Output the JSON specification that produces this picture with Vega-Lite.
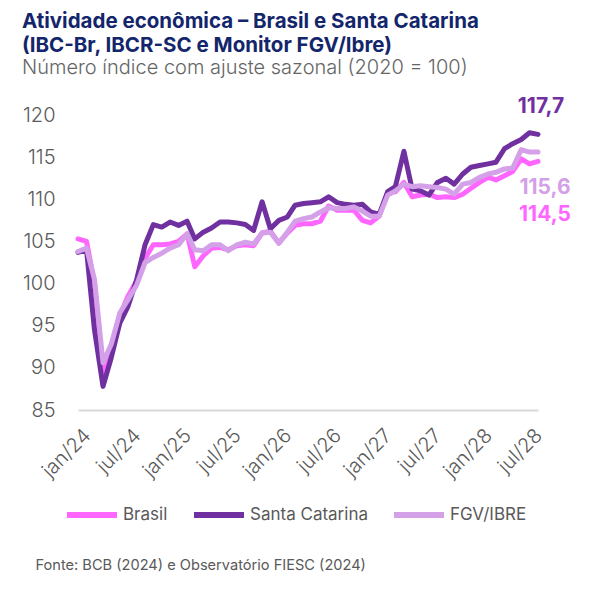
{
"$schema": "https://vega.github.io/schema/vega-lite/v6.json",
"width": 460, "height": 295,
"autosize": {"type": "none"},
"padding": {"left": 78, "top": 115, "right": 66, "bottom": 183},
"background": "white",
"config": {
  "font": "Inter",
  "view": {"stroke": null},
  "locale": {
    "number": {"decimal": ",", "thousands": ".", "grouping": [3], "currency": ["R$ ", ""]},
    "time": {"dateTime": "%A, %e de %B de %Y. %X", "date": "%d/%m/%Y", "time": "%H:%M:%S", "periods": ["AM", "PM"],
      "days": ["Domingo", "Segunda", "Terça", "Quarta", "Quinta", "Sexta", "Sábado"],
      "shortDays": ["Dom", "Seg", "Ter", "Qua", "Qui", "Sex", "Sáb"],
      "months": ["Janeiro", "Fevereiro", "Março", "Abril", "Maio", "Junho", "Julho", "Agosto", "Setembro", "Outubro", "Novembro", "Dezembro"],
      "shortMonths": ["jan", "fev", "mar", "abr", "mai", "jun", "jul", "ago", "set", "out", "nov", "dez"]}
  }
},
"title": {
  "text": ["Atividade econômica – Brasil e Santa Catarina", "(IBC-Br, IBCR-SC e Monitor FGV/Ibre)"],
  "subtitle": "Número índice com ajuste sazonal (2020 = 100)",
  "anchor": "start", "frame": "group", "dx": -56, "offset": 18,
  "fontSize": 20.5, "fontWeight": "bold", "color": "#13266b", "lineHeight": 24,
  "subtitleFontSize": 20, "subtitleColor": "#666666", "subtitleFontWeight": 300, "subtitlePadding": 2
},
"data": {"values": [
{"d":"2024-01-01","s":"Brasil","v":105.3},{"d":"2024-02-01","s":"Brasil","v":105.0},{"d":"2024-03-01","s":"Brasil","v":100.0},{"d":"2024-04-01","s":"Brasil","v":89.6},{"d":"2024-05-01","s":"Brasil","v":92.5},{"d":"2024-06-01","s":"Brasil","v":96.2},{"d":"2024-07-01","s":"Brasil","v":98.5},{"d":"2024-08-01","s":"Brasil","v":100.3},{"d":"2024-09-01","s":"Brasil","v":103.0},{"d":"2024-10-01","s":"Brasil","v":104.6},{"d":"2024-11-01","s":"Brasil","v":104.6},{"d":"2024-12-01","s":"Brasil","v":104.7},
{"d":"2025-01-01","s":"Brasil","v":105.0},{"d":"2025-02-01","s":"Brasil","v":105.9},{"d":"2025-03-01","s":"Brasil","v":102.0},{"d":"2025-04-01","s":"Brasil","v":103.3},{"d":"2025-05-01","s":"Brasil","v":104.2},{"d":"2025-06-01","s":"Brasil","v":104.3},{"d":"2025-07-01","s":"Brasil","v":104.0},{"d":"2025-08-01","s":"Brasil","v":104.5},{"d":"2025-09-01","s":"Brasil","v":104.6},{"d":"2025-10-01","s":"Brasil","v":104.5},{"d":"2025-11-01","s":"Brasil","v":106.0},{"d":"2025-12-01","s":"Brasil","v":106.2},
{"d":"2026-01-01","s":"Brasil","v":104.8},{"d":"2026-02-01","s":"Brasil","v":106.0},{"d":"2026-03-01","s":"Brasil","v":106.9},{"d":"2026-04-01","s":"Brasil","v":107.1},{"d":"2026-05-01","s":"Brasil","v":107.1},{"d":"2026-06-01","s":"Brasil","v":107.4},{"d":"2026-07-01","s":"Brasil","v":109.2},{"d":"2026-08-01","s":"Brasil","v":108.7},{"d":"2026-09-01","s":"Brasil","v":108.7},{"d":"2026-10-01","s":"Brasil","v":108.7},{"d":"2026-11-01","s":"Brasil","v":107.5},{"d":"2026-12-01","s":"Brasil","v":107.2},
{"d":"2027-01-01","s":"Brasil","v":108.0},{"d":"2027-02-01","s":"Brasil","v":110.8},{"d":"2027-03-01","s":"Brasil","v":110.9},{"d":"2027-04-01","s":"Brasil","v":112.0},{"d":"2027-05-01","s":"Brasil","v":110.3},{"d":"2027-06-01","s":"Brasil","v":110.5},{"d":"2027-07-01","s":"Brasil","v":110.6},{"d":"2027-08-01","s":"Brasil","v":110.2},{"d":"2027-09-01","s":"Brasil","v":110.3},{"d":"2027-10-01","s":"Brasil","v":110.2},{"d":"2027-11-01","s":"Brasil","v":110.6},{"d":"2027-12-01","s":"Brasil","v":111.3},
{"d":"2028-01-01","s":"Brasil","v":112.0},{"d":"2028-02-01","s":"Brasil","v":112.6},{"d":"2028-03-01","s":"Brasil","v":112.3},{"d":"2028-04-01","s":"Brasil","v":112.8},{"d":"2028-05-01","s":"Brasil","v":113.3},{"d":"2028-06-01","s":"Brasil","v":114.8},{"d":"2028-07-01","s":"Brasil","v":114.2},{"d":"2028-08-01","s":"Brasil","v":114.5},
{"d":"2024-01-01","s":"Santa Catarina","v":103.7},{"d":"2024-02-01","s":"Santa Catarina","v":104.0},{"d":"2024-03-01","s":"Santa Catarina","v":94.5},{"d":"2024-04-01","s":"Santa Catarina","v":87.8},{"d":"2024-05-01","s":"Santa Catarina","v":91.2},{"d":"2024-06-01","s":"Santa Catarina","v":95.3},{"d":"2024-07-01","s":"Santa Catarina","v":97.3},{"d":"2024-08-01","s":"Santa Catarina","v":100.4},{"d":"2024-09-01","s":"Santa Catarina","v":104.6},{"d":"2024-10-01","s":"Santa Catarina","v":107.0},{"d":"2024-11-01","s":"Santa Catarina","v":106.7},{"d":"2024-12-01","s":"Santa Catarina","v":107.3},
{"d":"2025-01-01","s":"Santa Catarina","v":106.9},{"d":"2025-02-01","s":"Santa Catarina","v":107.4},{"d":"2025-03-01","s":"Santa Catarina","v":105.3},{"d":"2025-04-01","s":"Santa Catarina","v":106.1},{"d":"2025-05-01","s":"Santa Catarina","v":106.6},{"d":"2025-06-01","s":"Santa Catarina","v":107.3},{"d":"2025-07-01","s":"Santa Catarina","v":107.3},{"d":"2025-08-01","s":"Santa Catarina","v":107.2},{"d":"2025-09-01","s":"Santa Catarina","v":107.0},{"d":"2025-10-01","s":"Santa Catarina","v":106.3},{"d":"2025-11-01","s":"Santa Catarina","v":109.7},{"d":"2025-12-01","s":"Santa Catarina","v":106.5},
{"d":"2026-01-01","s":"Santa Catarina","v":107.5},{"d":"2026-02-01","s":"Santa Catarina","v":107.9},{"d":"2026-03-01","s":"Santa Catarina","v":109.3},{"d":"2026-04-01","s":"Santa Catarina","v":109.5},{"d":"2026-05-01","s":"Santa Catarina","v":109.6},{"d":"2026-06-01","s":"Santa Catarina","v":109.7},{"d":"2026-07-01","s":"Santa Catarina","v":110.3},{"d":"2026-08-01","s":"Santa Catarina","v":109.6},{"d":"2026-09-01","s":"Santa Catarina","v":109.4},{"d":"2026-10-01","s":"Santa Catarina","v":109.3},{"d":"2026-11-01","s":"Santa Catarina","v":109.4},{"d":"2026-12-01","s":"Santa Catarina","v":108.5},
{"d":"2027-01-01","s":"Santa Catarina","v":108.2},{"d":"2027-02-01","s":"Santa Catarina","v":110.9},{"d":"2027-03-01","s":"Santa Catarina","v":111.5},{"d":"2027-04-01","s":"Santa Catarina","v":115.7},{"d":"2027-05-01","s":"Santa Catarina","v":111.2},{"d":"2027-06-01","s":"Santa Catarina","v":111.0},{"d":"2027-07-01","s":"Santa Catarina","v":110.5},{"d":"2027-08-01","s":"Santa Catarina","v":112.0},{"d":"2027-09-01","s":"Santa Catarina","v":112.5},{"d":"2027-10-01","s":"Santa Catarina","v":111.8},{"d":"2027-11-01","s":"Santa Catarina","v":113.0},{"d":"2027-12-01","s":"Santa Catarina","v":113.8},
{"d":"2028-01-01","s":"Santa Catarina","v":114.0},{"d":"2028-02-01","s":"Santa Catarina","v":114.2},{"d":"2028-03-01","s":"Santa Catarina","v":114.4},{"d":"2028-04-01","s":"Santa Catarina","v":116.0},{"d":"2028-05-01","s":"Santa Catarina","v":116.6},{"d":"2028-06-01","s":"Santa Catarina","v":117.1},{"d":"2028-07-01","s":"Santa Catarina","v":117.9},{"d":"2028-08-01","s":"Santa Catarina","v":117.7},
{"d":"2024-01-01","s":"FGV/IBRE","v":103.8},{"d":"2024-02-01","s":"FGV/IBRE","v":104.2},{"d":"2024-03-01","s":"FGV/IBRE","v":100.5},{"d":"2024-04-01","s":"FGV/IBRE","v":90.6},{"d":"2024-05-01","s":"FGV/IBRE","v":92.8},{"d":"2024-06-01","s":"FGV/IBRE","v":96.5},{"d":"2024-07-01","s":"FGV/IBRE","v":98.1},{"d":"2024-08-01","s":"FGV/IBRE","v":99.8},{"d":"2024-09-01","s":"FGV/IBRE","v":102.5},{"d":"2024-10-01","s":"FGV/IBRE","v":103.1},{"d":"2024-11-01","s":"FGV/IBRE","v":103.6},{"d":"2024-12-01","s":"FGV/IBRE","v":104.2},
{"d":"2025-01-01","s":"FGV/IBRE","v":104.6},{"d":"2025-02-01","s":"FGV/IBRE","v":105.9},{"d":"2025-03-01","s":"FGV/IBRE","v":104.0},{"d":"2025-04-01","s":"FGV/IBRE","v":103.9},{"d":"2025-05-01","s":"FGV/IBRE","v":104.6},{"d":"2025-06-01","s":"FGV/IBRE","v":104.6},{"d":"2025-07-01","s":"FGV/IBRE","v":103.9},{"d":"2025-08-01","s":"FGV/IBRE","v":104.6},{"d":"2025-09-01","s":"FGV/IBRE","v":104.9},{"d":"2025-10-01","s":"FGV/IBRE","v":104.7},{"d":"2025-11-01","s":"FGV/IBRE","v":106.0},{"d":"2025-12-01","s":"FGV/IBRE","v":106.1},
{"d":"2026-01-01","s":"FGV/IBRE","v":104.8},{"d":"2026-02-01","s":"FGV/IBRE","v":106.1},{"d":"2026-03-01","s":"FGV/IBRE","v":107.4},{"d":"2026-04-01","s":"FGV/IBRE","v":107.7},{"d":"2026-05-01","s":"FGV/IBRE","v":107.9},{"d":"2026-06-01","s":"FGV/IBRE","v":108.5},{"d":"2026-07-01","s":"FGV/IBRE","v":109.0},{"d":"2026-08-01","s":"FGV/IBRE","v":108.9},{"d":"2026-09-01","s":"FGV/IBRE","v":108.9},{"d":"2026-10-01","s":"FGV/IBRE","v":109.1},{"d":"2026-11-01","s":"FGV/IBRE","v":108.6},{"d":"2026-12-01","s":"FGV/IBRE","v":108.0},
{"d":"2027-01-01","s":"FGV/IBRE","v":108.0},{"d":"2027-02-01","s":"FGV/IBRE","v":110.5},{"d":"2027-03-01","s":"FGV/IBRE","v":111.0},{"d":"2027-04-01","s":"FGV/IBRE","v":111.8},{"d":"2027-05-01","s":"FGV/IBRE","v":111.5},{"d":"2027-06-01","s":"FGV/IBRE","v":111.6},{"d":"2027-07-01","s":"FGV/IBRE","v":111.5},{"d":"2027-08-01","s":"FGV/IBRE","v":111.4},{"d":"2027-09-01","s":"FGV/IBRE","v":111.2},{"d":"2027-10-01","s":"FGV/IBRE","v":110.6},{"d":"2027-11-01","s":"FGV/IBRE","v":111.8},{"d":"2027-12-01","s":"FGV/IBRE","v":112.0},
{"d":"2028-01-01","s":"FGV/IBRE","v":112.6},{"d":"2028-02-01","s":"FGV/IBRE","v":113.0},{"d":"2028-03-01","s":"FGV/IBRE","v":113.2},{"d":"2028-04-01","s":"FGV/IBRE","v":113.6},{"d":"2028-05-01","s":"FGV/IBRE","v":113.7},{"d":"2028-06-01","s":"FGV/IBRE","v":115.9},{"d":"2028-07-01","s":"FGV/IBRE","v":115.6},{"d":"2028-08-01","s":"FGV/IBRE","v":115.6}
]},
"encoding": {
  "x": {"field": "d", "type": "temporal",
    "scale": {"type": "utc", "domain": [{"year": 2024, "month": 1, "date": 1, "utc": true}, {"year": 2028, "month": 8, "date": 1, "utc": true}]},
    "axis": {"domain": true, "domainColor": "#d9d9d9", "domainWidth": 2, "ticks": false, "tickSize": 0, "grid": false,
      "labelAngle": -45, "labelFontSize": 20, "labelFontWeight": 300, "labelColor": "#595959", "format": "%b/%y",
      "tickCount": {"interval": "month", "step": 6}, "labelPadding": 15, "labelOffset": 2, "labelOverlap": false, "labelBound": false, "labelFlush": false,
      "title": "Fonte: BCB (2024) e Observatório FIESC (2024)", "titleFontSize": 14.6, "titleFontWeight": "normal", "titleColor": "#595959",
      "titleAnchor": "start", "titleAlign": "left", "titleX": -43, "titleY": 159, "titleBaseline": "alphabetic"}},
  "y": {"field": "v", "type": "quantitative",
    "scale": {"domain": [85, 120], "zero": false, "nice": false},
    "axis": {"values": [85, 90, 95, 100, 105, 110, 115, 120], "domain": false, "ticks": false, "tickSize": 0, "grid": false,
      "labelPadding": 23, "labelFontSize": 20, "labelFontWeight": 300, "labelColor": "#595959", "title": null}}
},
"layer": [
  {"mark": {"type": "line", "strokeWidth": 5, "strokeCap": "round", "strokeJoin": "round"},
   "encoding": {"color": {"field": "s", "type": "nominal",
     "scale": {"domain": ["Brasil", "Santa Catarina", "FGV/IBRE"], "range": ["#ff66ff", "#7030a0", "#d4a0e8"]},
     "legend": {"orient": "none", "legendX": -14, "legendY": 372, "direction": "horizontal", "title": null,
       "symbolType": "stroke", "symbolSize": 2500, "symbolStrokeWidth": 6, "labelFontSize": 17, "labelColor": "#595959",
       "columnPadding": 14, "labelOffset": 3, "padding": 0}}}},
  {"transform": [{"filter": {"and": [{"field": "s", "equal": "Santa Catarina"}, {"field": "d", "equal": {"year": 2028, "month": 8, "date": 1, "utc": true}}]}}],
   "mark": {"type": "text", "fontSize": 21, "fontWeight": "bold", "color": "#7030a0", "dy": -27, "dx": 3},
   "encoding": {"text": {"field": "v", "type": "quantitative", "format": ".1f"}}},
  {"transform": [{"filter": {"and": [{"field": "s", "equal": "FGV/IBRE"}, {"field": "d", "equal": {"year": 2028, "month": 8, "date": 1, "utc": true}}]}}],
   "mark": {"type": "text", "fontSize": 21, "fontWeight": "bold", "color": "#d4a0e8", "dy": 36, "dx": 7},
   "encoding": {"text": {"field": "v", "type": "quantitative", "format": ".1f"}}},
  {"transform": [{"filter": {"and": [{"field": "s", "equal": "Brasil"}, {"field": "d", "equal": {"year": 2028, "month": 8, "date": 1, "utc": true}}]}}],
   "mark": {"type": "text", "fontSize": 21, "fontWeight": "bold", "color": "#ff66ff", "dy": 54, "dx": 7},
   "encoding": {"text": {"field": "v", "type": "quantitative", "format": ".1f"}}}
]
}
